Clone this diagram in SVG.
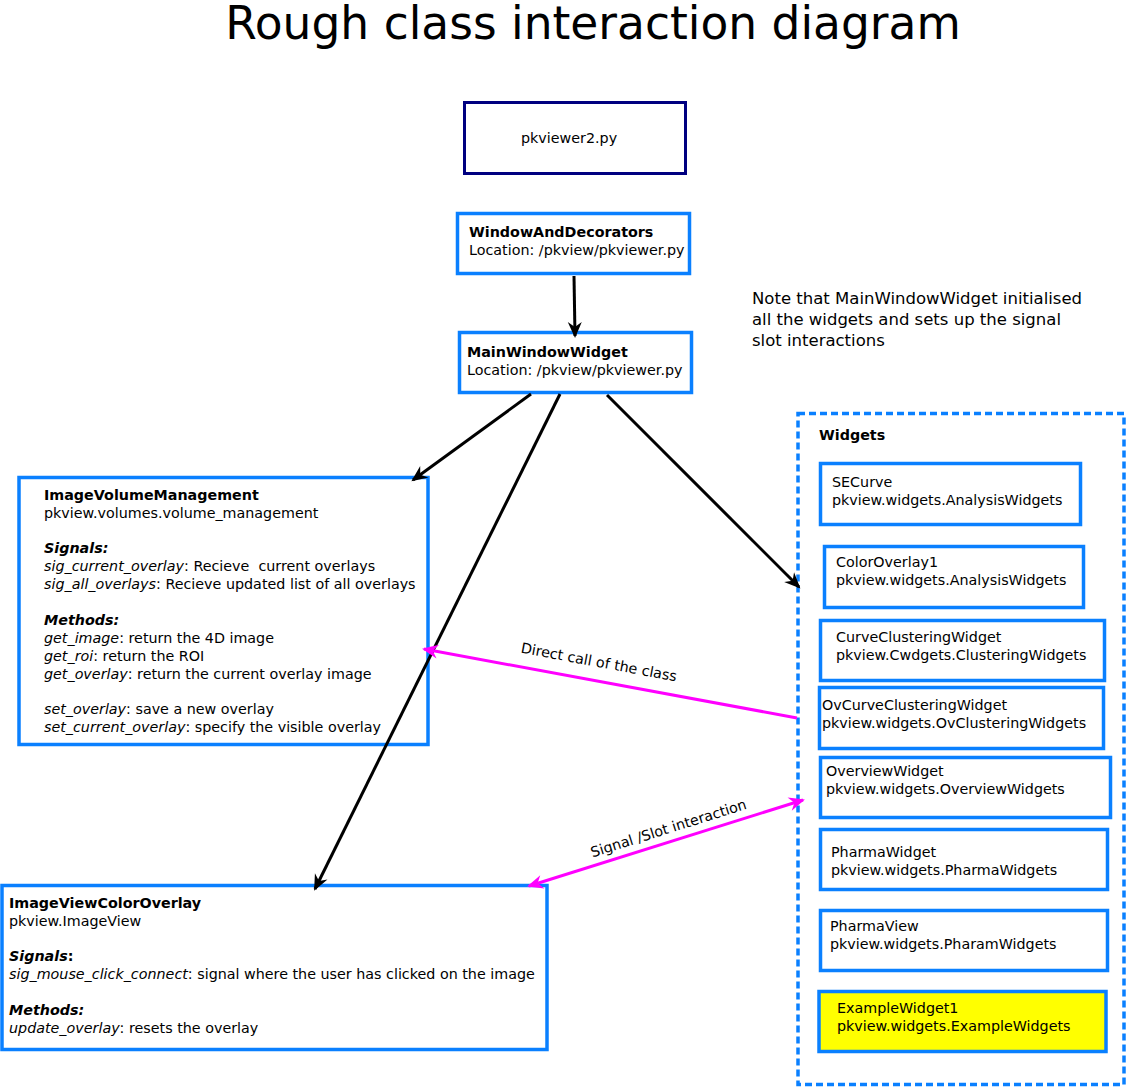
<svg xmlns="http://www.w3.org/2000/svg" width="1126" height="1088" viewBox="0 0 1126 1088">
<style>
text{font-family:"DejaVu Sans","Liberation Sans",sans-serif;font-size:14.3px;fill:#000}
.b{font-weight:bold}
.i{font-style:italic}
.box{fill:#fff;stroke:#0a80ff;stroke-width:3.5}
.blk{fill:none;stroke:#000;stroke-width:3}
.mag{fill:none;stroke:#ff00ff;stroke-width:3}
.note{font-size:16.5px}
</style>
<defs>
<marker id="ak" markerUnits="userSpaceOnUse" viewBox="-16 -8 20 16" markerWidth="20" markerHeight="16" refX="0" refY="0" orient="auto">
<path d="M2,0 L-14,-7 L-9,0 L-14,7 Z" fill="#000"/>
</marker>
<marker id="am" markerUnits="userSpaceOnUse" viewBox="-16 -8 20 16" markerWidth="20" markerHeight="16" refX="0" refY="0" orient="auto-start-reverse">
<path d="M2,0 L-14,-7 L-9,0 L-14,7 Z" fill="#ff00ff"/>
</marker>
</defs>
<rect width="1126" height="1088" fill="#fff"/>
<text x="593" y="39" text-anchor="middle" style="font-size:45.5px">Rough class interaction diagram</text>

<g id="pkviewer2">
<rect x="464.5" y="102.5" width="221" height="71" fill="#fff" stroke="#000080" stroke-width="3"/>
<text x="521" y="143">pkviewer2.py</text>
</g>
<g id="WindowAndDecorators">
<rect class="box" x="457.5" y="213.5" width="232" height="60"/>
<text x="469" y="237" class="b">WindowAndDecorators</text>
<text x="469" y="255">Location: /pkview/pkviewer.py</text>
</g>
<g id="MainWindowWidget">
<rect class="box" x="459.5" y="332.5" width="232" height="60"/>
<text x="467" y="357" class="b">MainWindowWidget</text>
<text x="467" y="375">Location: /pkview/pkviewer.py</text>
</g>
<g id="note">
<text x="752" y="304" class="note">Note that MainWindowWidget initialised</text>
<text x="752" y="325" class="note">all the widgets and sets up the signal</text>
<text x="752" y="346" class="note">slot interactions</text>
</g>
<g id="ImageVolumeManagement">
<rect class="box" x="19" y="477.5" width="409" height="267"/>
<text x="44" y="500" class="b">ImageVolumeManagement</text>
<text x="44" y="518">pkview.volumes.volume_management</text>
<text x="44" y="553" class="b i">Signals:</text>
<text x="44" y="571"><tspan class="i">sig_current_overlay</tspan>: Recieve&#160; current overlays</text>
<text x="44" y="589"><tspan class="i">sig_all_overlays</tspan>: Recieve updated list of all overlays</text>
<text x="44" y="625" class="b i">Methods:</text>
<text x="44" y="643"><tspan class="i">get_image</tspan>: return the 4D image</text>
<text x="44" y="661"><tspan class="i">get_roi</tspan>: return the ROI</text>
<text x="44" y="679"><tspan class="i">get_overlay</tspan>: return the current overlay image</text>
<text x="44" y="714"><tspan class="i">set_overlay</tspan>: save a new overlay</text>
<text x="44" y="732"><tspan class="i">set_current_overlay</tspan>: specify the visible overlay</text>
</g>
<g id="ImageViewColorOverlay">
<rect class="box" x="2" y="885.5" width="545" height="164"/>
<text x="9" y="908" class="b">ImageViewColorOverlay</text>
<text x="9" y="926">pkview.ImageView</text>
<text x="9" y="961"><tspan class="b i">Signals</tspan><tspan class="b">:</tspan></text>
<text x="9" y="979"><tspan class="i">sig_mouse_click_connect</tspan>: signal where the user has clicked on the image</text>
<text x="9" y="1015" class="b i">Methods:</text>
<text x="9" y="1033"><tspan class="i">update_overlay</tspan>: resets the overlay</text>
</g>
<g id="Widgets">
<rect x="798" y="413.5" width="326" height="671" fill="none" stroke="#0a80ff" stroke-width="3.5" stroke-dasharray="7,4"/>
<text x="819" y="440" class="b">Widgets</text>
</g>
<g id="SECurve">
<rect class="box" x="820.5" y="463.5" width="260" height="61"/>
<text x="832" y="487">SECurve</text>
<text x="832" y="505">pkview.widgets.AnalysisWidgets</text>
</g>
<g id="ColorOverlay1">
<rect class="box" x="824.5" y="546.5" width="259" height="61"/>
<text x="836" y="567">ColorOverlay1</text>
<text x="836" y="585">pkview.widgets.AnalysisWidgets</text>
</g>
<g id="CurveClusteringWidget">
<rect class="box" x="820.5" y="620.5" width="284" height="60"/>
<text x="836" y="642">CurveClusteringWidget</text>
<text x="836" y="660">pkview.Cwdgets.ClusteringWidgets</text>
</g>
<g id="OvCurveClusteringWidget">
<rect class="box" x="819.5" y="687.5" width="284" height="61"/>
<text x="822" y="710">OvCurveClusteringWidget</text>
<text x="822" y="728">pkview.widgets.OvClusteringWidgets</text>
</g>
<g id="OverviewWidget">
<rect class="box" x="820.5" y="757.5" width="290" height="60"/>
<text x="826" y="776">OverviewWidget</text>
<text x="826" y="794">pkview.widgets.OverviewWidgets</text>
</g>
<g id="PharmaWidget">
<rect class="box" x="820.5" y="829.5" width="287" height="60"/>
<text x="831" y="857">PharmaWidget</text>
<text x="831" y="875">pkview.widgets.PharmaWidgets</text>
</g>
<g id="PharmaView">
<rect class="box" x="820.5" y="910.5" width="287" height="60"/>
<text x="830" y="931">PharmaView</text>
<text x="830" y="949">pkview.widgets.PharamWidgets</text>
</g>
<g id="ExampleWidget1">
<rect class="box" x="819" y="991.5" width="287" height="60" style="fill:#ffff00"/>
<text x="837" y="1013">ExampleWidget1</text>
<text x="837" y="1031">pkview.widgets.ExampleWidgets</text>
</g>

<g id="connectors">
<line class="blk" x1="574" y1="276" x2="575" y2="336" marker-end="url(#ak)"/>
<line class="blk" x1="531" y1="394" x2="413" y2="480" marker-end="url(#ak)"/>
<line class="blk" x1="560" y1="394" x2="315" y2="889" marker-end="url(#ak)"/>
<line class="blk" x1="607" y1="395" x2="799" y2="587" marker-end="url(#ak)"/>
<line class="mag" x1="797" y1="718" x2="424" y2="649" marker-end="url(#am)"/>
<line class="mag" x1="529" y1="886" x2="803" y2="800" marker-start="url(#am)" marker-end="url(#am)"/>
<text transform="translate(598,667) rotate(10.5)" text-anchor="middle">Direct call of the class</text>
<text transform="translate(670,833) rotate(-17.5)" text-anchor="middle">Signal /Slot interaction</text>
</g>
</svg>
